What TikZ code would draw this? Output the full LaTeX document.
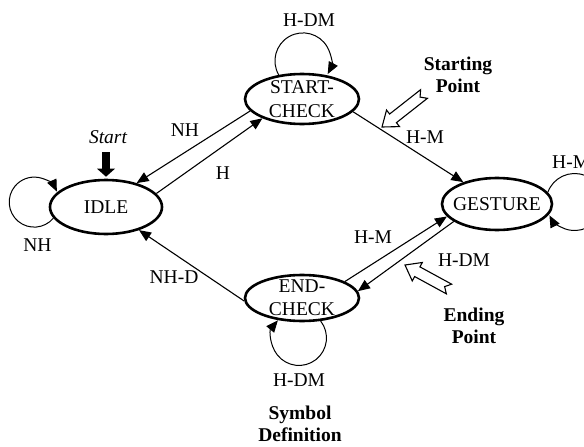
\documentclass[tikz,border=0pt]{standalone}
\usepackage{fontspec}
\setmainfont{Liberation Serif}
\usetikzlibrary{arrows.meta,shapes.geometric,calc}
\newcommand{\blockarr}[2]{%
  \coordinate (q) at ($(#2)!14pt!(#1)$);
  \draw[hollow] ($(#1)!5pt!(#2)$) -- ($(#1)!5.5pt!90:(#2)$) -- ($(q)!5.5pt!90:(#2)$)
    -- ($(q)!10.5pt!90:(#2)$) -- (#2) -- ($(q)!10.5pt!-90:(#2)$)
    -- ($(q)!5.5pt!-90:(#2)$) -- ($(#1)!5.5pt!-90:(#2)$) -- cycle;}
\begin{document}
\begin{tikzpicture}[x=1pt,y=-1pt,
  state/.style={ellipse,draw,line width=2.6pt,inner sep=0pt},
  lbl/.style={font=\fontsize{19.5}{23.4}\selectfont, inner sep=0pt},
  ilbl/.style={font=\itshape\fontsize{19.5}{23.4}\selectfont, inner sep=0pt},
  blbl/.style={font=\bfseries\fontsize{19.5}{21.5}\selectfont, align=center, inner sep=0pt},
  edge/.style={line width=1.1pt, -{Triangle[length=12pt,width=10pt]}},
  loopedge/.style={line width=1pt, -{Triangle[length=12pt,width=10pt]}},
  hollow/.style={draw, line width=1.1pt, fill=white, line join=miter}
]
\useasboundingbox (0,0) rectangle (584,447);
\clip (0,0) rectangle (584,447);

% states
\node[state, minimum width=112pt, minimum height=54pt, label={[lbl]center:IDLE}] (idle) at (106,207) {};
\node[state, minimum width=114pt, minimum height=50pt, label={[lbl,align=center]center:START-\\CHECK}] (sc) at (302,99) {};
\node[state, minimum width=110pt, minimum height=52pt, label={[lbl]center:GESTURE}] (ge) at (497,204) {};
\node[state, minimum width=114pt, minimum height=46pt, label={[lbl,align=center]center:END-\\CHECK}] (ec) at (302,298) {};

% transitions
\draw[edge] (sc.193.5) -- (idle.38);
\draw[edge] (idle.15.5) -- (sc.206.6);
\draw[edge] (sc.346.7) -- (ge.147.8);
\draw[edge] (ge.202.9) -- (ec.7.9);
\draw[edge] (ec.21.8) -- (ge.194.3);
\draw[edge] (ec.183) -- (idle.325.2);

% self loops
\draw[loopedge] (idle.192.4) arc[start angle=40, end angle=335, radius=25];
\draw[loopedge] (sc.134) arc[start angle=150, end angle=388, radius=28];
\draw[loopedge] (ge.13.8) arc[start angle=200, end angle=512, radius=28.5];
\draw[loopedge] (ec.309.9) arc[start angle=-38, end angle=220, radius=27.5];

% start arrow
\coordinate (st) at (106,152);
\draw[line width=8pt, shorten >=2pt, -{Triangle[length=8pt,width=18pt,line width=0pt]}] (st) -- (idle.north);
\node[ilbl] (lstart) at (108,137) {Start};

% labels
\node[lbl] (l1) at (185,130) {NH};
\node[lbl] (l2) at (223,173) {H};
\node[lbl] (l3) at (309,20) {H-DM};
\node[lbl] (l4) at (425,137) {H-M};
\node[lbl, anchor=west] (l5) at (552,162) {H-M};
\node[lbl] (l6) at (373,237) {H-M};
\node[lbl] (l7) at (464,260) {H-DM};
\node[lbl] (l8) at (174,277) {NH-D};
\node[lbl] (l9) at (37.5,245) {NH};
\node[lbl] (l10) at (299,380) {H-DM};

% annotations
\node[blbl] (sp) at (458,75) {Starting\\Point};
\node[blbl] (ep) at (474,326) {Ending\\Point};
\node[blbl] (sd) at (300,424) {Symbol\\Definition};

% hollow pointer arrows
\coordinate (sa1) at (424,94);
\coordinate (sa2) at (382,127);
\blockarr{sa1}{sa2}
\coordinate (ea1) at (449,289);
\coordinate (ea2) at (405,265);
\blockarr{ea1}{ea2}
\end{tikzpicture}
\end{document}
